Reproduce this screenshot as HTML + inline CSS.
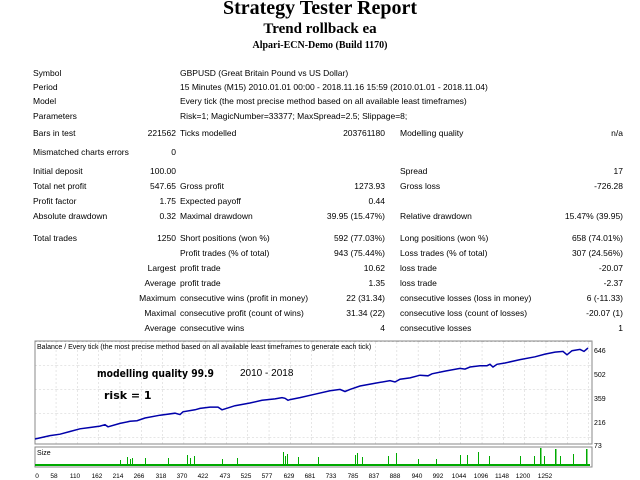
<!DOCTYPE html>
<html><head><style>
body{margin:0;width:640px;height:480px;background:#fff;font-family:"Liberation Sans",sans-serif;position:relative;overflow:hidden}
.t{position:absolute;font-size:8.5px;color:#000;white-space:nowrap;line-height:10px}
.r{text-align:right}
.h{position:absolute;left:0;width:640px;text-align:center;font-family:"Liberation Serif",serif;font-weight:bold}
</style></head><body>
<div class="h" style="top:-3px;font-size:20px">Strategy Tester Report</div>
<div class="h" style="top:21px;font-size:15px">Trend rollback ea</div>
<div class="h" style="top:40px;font-size:10px">Alpari-ECN-Demo (Build 1170)</div>

<div class="t" style="left:33px;top:68px">Symbol</div><div class="t" style="left:180px;top:68px">GBPUSD (Great Britain Pound vs US Dollar)</div>
<div class="t" style="left:33px;top:82px">Period</div><div class="t" style="left:180px;top:82px">15 Minutes (M15) 2010.01.01 00:00 - 2018.11.16 15:59 (2010.01.01 - 2018.11.04)</div>
<div class="t" style="left:33px;top:96px">Model</div><div class="t" style="left:180px;top:96px">Every tick (the most precise method based on all available least timeframes)</div>
<div class="t" style="left:33px;top:111px">Parameters</div><div class="t" style="left:180px;top:111px">Risk=1; MagicNumber=33377; MaxSpread=2.5; Slippage=8;</div>

<div class="t" style="left:33px;top:128px">Bars in test</div><div class="t r" style="right:464px;top:128px">221562</div><div class="t" style="left:180px;top:128px">Ticks modelled</div><div class="t r" style="right:255px;top:128px">203761180</div><div class="t" style="left:400px;top:128px">Modelling quality</div><div class="t r" style="right:17px;top:128px">n/a</div>
<div class="t" style="left:33px;top:147px">Mismatched charts errors</div><div class="t r" style="right:464px;top:147px">0</div>

<div class="t" style="left:33px;top:166px">Initial deposit</div><div class="t r" style="right:464px;top:166px">100.00</div><div class="t" style="left:400px;top:166px">Spread</div><div class="t r" style="right:17px;top:166px">17</div>
<div class="t" style="left:33px;top:181px">Total net profit</div><div class="t r" style="right:464px;top:181px">547.65</div><div class="t" style="left:180px;top:181px">Gross profit</div><div class="t r" style="right:255px;top:181px">1273.93</div><div class="t" style="left:400px;top:181px">Gross loss</div><div class="t r" style="right:17px;top:181px">-726.28</div>
<div class="t" style="left:33px;top:196px">Profit factor</div><div class="t r" style="right:464px;top:196px">1.75</div><div class="t" style="left:180px;top:196px">Expected payoff</div><div class="t r" style="right:255px;top:196px">0.44</div>
<div class="t" style="left:33px;top:211px">Absolute drawdown</div><div class="t r" style="right:464px;top:211px">0.32</div><div class="t" style="left:180px;top:211px">Maximal drawdown</div><div class="t r" style="right:255px;top:211px">39.95 (15.47%)</div><div class="t" style="left:400px;top:211px">Relative drawdown</div><div class="t r" style="right:17px;top:211px">15.47% (39.95)</div>

<div class="t" style="left:33px;top:233px">Total trades</div><div class="t r" style="right:464px;top:233px">1250</div><div class="t" style="left:180px;top:233px">Short positions (won %)</div><div class="t r" style="right:255px;top:233px">592 (77.03%)</div><div class="t" style="left:400px;top:233px">Long positions (won %)</div><div class="t r" style="right:17px;top:233px">658 (74.01%)</div>
<div class="t" style="left:180px;top:248px">Profit trades (% of total)</div><div class="t r" style="right:255px;top:248px">943 (75.44%)</div><div class="t" style="left:400px;top:248px">Loss trades (% of total)</div><div class="t r" style="right:17px;top:248px">307 (24.56%)</div>
<div class="t r" style="right:464px;top:263px">Largest</div><div class="t" style="left:180px;top:263px">profit trade</div><div class="t r" style="right:255px;top:263px">10.62</div><div class="t" style="left:400px;top:263px">loss trade</div><div class="t r" style="right:17px;top:263px">-20.07</div>
<div class="t r" style="right:464px;top:278px">Average</div><div class="t" style="left:180px;top:278px">profit trade</div><div class="t r" style="right:255px;top:278px">1.35</div><div class="t" style="left:400px;top:278px">loss trade</div><div class="t r" style="right:17px;top:278px">-2.37</div>
<div class="t r" style="right:464px;top:293px">Maximum</div><div class="t" style="left:180px;top:293px">consecutive wins (profit in money)</div><div class="t r" style="right:255px;top:293px">22 (31.34)</div><div class="t" style="left:400px;top:293px">consecutive losses (loss in money)</div><div class="t r" style="right:17px;top:293px">6 (-11.33)</div>
<div class="t r" style="right:464px;top:308px">Maximal</div><div class="t" style="left:180px;top:308px">consecutive profit (count of wins)</div><div class="t r" style="right:255px;top:308px">31.34 (22)</div><div class="t" style="left:400px;top:308px">consecutive loss (count of losses)</div><div class="t r" style="right:17px;top:308px">-20.07 (1)</div>
<div class="t r" style="right:464px;top:323px">Average</div><div class="t" style="left:180px;top:323px">consecutive wins</div><div class="t r" style="right:255px;top:323px">4</div><div class="t" style="left:400px;top:323px">consecutive losses</div><div class="t r" style="right:17px;top:323px">1</div>

<svg style="position:absolute;left:0;top:0" width="640" height="480" font-family="Liberation Sans, sans-serif">
<defs><pattern id="g" x="35" y="342" width="21.3" height="24" patternUnits="userSpaceOnUse"><path d="M21.3 0V24M0 24H21.3" stroke="#ccc" stroke-dasharray="2,2" fill="none"/></pattern></defs>
<rect x="35" y="341" width="557" height="103" fill="url(#g)" stroke="#888"/>
<rect x="35" y="447" width="557" height="20" fill="#fff" stroke="#888"/>
<text x="37" y="349" font-size="7">Balance / Every tick (the most precise method based on all available least timeframes to generate each tick)</text>
<text x="37" y="455" font-size="7">Size</text>
<text x="97" y="377" font-size="11" font-weight="bold" font-family="DejaVu Sans, sans-serif" textLength="117" lengthAdjust="spacingAndGlyphs">modelling quality 99.9</text>
<text x="240" y="376" font-size="10">2010 - 2018</text>
<text x="104" y="399" font-size="11" font-weight="bold" font-family="DejaVu Sans, sans-serif">risk = 1</text>
<polyline fill="none" stroke="#00a" stroke-width="1.5" points="35,439 50,435.6 60,434.2 70,431.5 80,428.8 90,427.5 100,426.1 105,424.7 108,426.8 120,423.4 130,421.3 137,420.7 145,418 160,415.2 175,413.2 180,414.6 183,411.8 195,409.8 200,408.4 210,407.1 218,407.1 222,409.8 235,405.7 250,403 262,400.3 275,398.9 282,397.6 285,398.3 288,400.3 290,399.6 300,397.6 315,394.2 330,390.8 340,389.4 345,391.5 350,389.4 360,386 375,383.3 390,380.6 395,382 400,379.2 410,377.9 420,375.2 428,375.8 432,373.8 445,371.1 460,368.4 465,369.1 470,367 480,365.7 487,365.7 490,364.3 493,367 497,364.3 505,363 520,359.6 535,356.8 545,354.1 555,352.1 563,351.4 567,354.8 572,350.7 580,349.4 584,351.4 588,348"/>
<g fill="#0a0">
<rect x="35" y="464" width="555" height="2"/>
<rect x="120" y="460" width="1" height="4"/><rect x="127" y="457" width="1" height="7"/><rect x="130" y="459" width="1" height="5"/><rect x="132" y="458" width="1" height="6"/><rect x="145" y="458" width="1" height="6"/><rect x="168" y="458" width="1" height="6"/><rect x="187" y="455" width="1" height="9"/><rect x="190" y="458" width="1" height="6"/><rect x="194" y="456" width="1" height="8"/><rect x="222" y="459" width="1" height="5"/><rect x="237" y="458" width="1" height="6"/><rect x="283" y="452" width="1" height="12"/><rect x="285" y="456" width="1" height="8"/><rect x="287" y="454" width="1" height="10"/><rect x="298" y="457" width="1" height="7"/><rect x="318" y="457" width="1" height="7"/><rect x="355" y="455" width="1" height="9"/><rect x="357" y="453" width="1" height="11"/><rect x="362" y="457" width="1" height="7"/><rect x="388" y="456" width="1" height="8"/><rect x="396" y="453" width="1" height="11"/><rect x="418" y="459" width="1" height="5"/><rect x="436" y="459" width="1" height="5"/><rect x="460" y="455" width="1" height="9"/><rect x="467" y="455" width="1" height="9"/><rect x="478" y="452" width="1" height="12"/><rect x="489" y="456" width="1" height="8"/><rect x="520" y="456" width="1" height="8"/><rect x="534" y="456" width="1" height="8"/><rect x="540" y="448" width="1.5" height="16"/><rect x="544" y="456" width="1" height="8"/><rect x="555" y="449" width="1.5" height="15"/><rect x="560" y="456" width="1" height="8"/><rect x="573" y="454" width="1" height="10"/><rect x="586" y="449" width="1.5" height="15"/>
</g>
<g font-size="7" fill="#000">
<text x="594" y="353">646</text><text x="594" y="377">502</text><text x="594" y="401">359</text><text x="594" y="425">216</text><text x="594" y="448">73</text>
</g>
<g font-size="6.5" fill="#000" text-anchor="middle">
<text x="37" y="478">0</text><text x="54" y="478">58</text><text x="75" y="478">110</text><text x="97" y="478">162</text><text x="118" y="478">214</text><text x="139" y="478">266</text><text x="161" y="478">318</text><text x="182" y="478">370</text><text x="203" y="478">422</text><text x="225" y="478">473</text><text x="246" y="478">525</text><text x="267" y="478">577</text><text x="289" y="478">629</text><text x="310" y="478">681</text><text x="331" y="478">733</text><text x="353" y="478">785</text><text x="374" y="478">837</text><text x="395" y="478">888</text><text x="417" y="478">940</text><text x="438" y="478">992</text><text x="459" y="478">1044</text><text x="481" y="478">1096</text><text x="502" y="478">1148</text><text x="523" y="478">1200</text><text x="545" y="478">1252</text>
</g>
</svg>
</body></html>
